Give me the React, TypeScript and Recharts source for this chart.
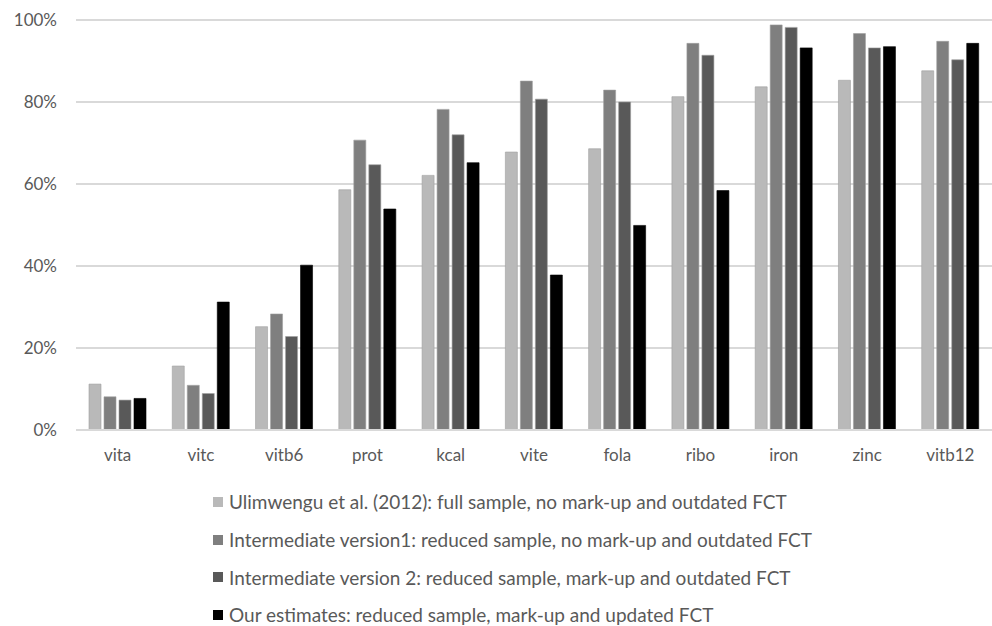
import { Bar, BarChart, CartesianGrid, Legend, XAxis, YAxis } from "recharts";

const nutrients = ["vita", "vitc", "vitb6", "prot", "kcal", "vite", "fola", "ribo", "iron", "zinc", "vitb12"];

const ulimwengu = [11.2, 15.6, 25.2, 58.6, 62.1, 67.8, 68.6, 81.3, 83.7, 85.3, 87.6];
const version1 = [8.1, 10.9, 28.3, 70.7, 78.2, 85.1, 82.9, 94.3, 98.8, 96.7, 94.8];
const version2 = [7.3, 8.9, 22.8, 64.7, 72.0, 80.7, 80.0, 91.4, 98.2, 93.2, 90.3];
const ourEstimates = [7.7, 31.2, 40.2, 53.9, 65.2, 37.8, 49.9, 58.4, 93.2, 93.5, 94.3];

const yTicks = [0, 20, 40, 60, 80, 100];

const seriesNames = [
  "Ulimwengu et al. (2012): full sample, no mark-up and outdated FCT",
  "Intermediate version1: reduced sample, no mark-up and outdated FCT",
  "Intermediate version 2: reduced sample, mark-up and outdated FCT",
  "Our estimates: reduced sample, mark-up and updated FCT",
];

const SERIES_COLORS = ["#b9b9b9", "#7f7f7f", "#595959", "#000000"];
const FONT = "Lato, 'Open Sans', sans-serif";
const TEXT_COLOR = "#595959";

const chartData = nutrients.map((name, i) => ({
  name,
  s0: ulimwengu[i],
  s1: version1[i],
  s2: version2[i],
  s3: ourEstimates[i],
}));

function LegendBox() {
  return (
    <div style={{ height: 156, paddingLeft: 213, paddingTop: 13, boxSizing: "border-box" }}>
      {seriesNames.map((label, i) => (
        <div
          key={label}
          style={{
            display: "flex",
            alignItems: "center",
            height: 37.7,
            fontFamily: FONT,
            fontSize: 19,
            color: TEXT_COLOR,
            whiteSpace: "nowrap",
          }}
        >
          <span
            style={{
              width: 10,
              height: 10,
              background: SERIES_COLORS[i],
              marginRight: 6,
              display: "inline-block",
            }}
          />
          <span>{label}</span>
        </div>
      ))}
    </div>
  );
}

export default function App() {
  return (
    <div style={{ position: "absolute", left: 0, top: 0, background: "#fff" }}>
      <BarChart
        width={992}
        height={626}
        data={chartData}
        margin={{ top: 20, right: 0, bottom: 0, left: 0 }}
        barCategoryGap={13}
        barGap={3}
      >
        <CartesianGrid vertical={false} stroke="#d9d9d9" strokeWidth={2} />
        <XAxis
          dataKey="name"
          height={40}
          axisLine={{ stroke: "#d9d9d9", strokeWidth: 2 }}
          tickLine={false}
          tickMargin={13}
          tick={{ fill: TEXT_COLOR, fontFamily: FONT, fontSize: 17 }}
        />
        <YAxis
          width={76}
          domain={[0, 100]}
          ticks={yTicks}
          axisLine={false}
          tickLine={false}
          tickSize={0}
          tickMargin={19}
          tickFormatter={(v: number) => `${v}%`}
          tick={{ fill: TEXT_COLOR, fontFamily: FONT, fontSize: 17 }}
        />
        <Legend verticalAlign="bottom" content={() => <LegendBox />} />
        {["s0", "s1", "s2", "s3"].map((key, i) => (
          <Bar
            key={key}
            dataKey={key}
            name={seriesNames[i]}
            fill={SERIES_COLORS[i]}
            stroke={i === 3 ? "#000" : "#a0a0a0"}
            strokeWidth={0.6}
            isAnimationActive={false}
          />
        ))}
      </BarChart>
    </div>
  );
}
